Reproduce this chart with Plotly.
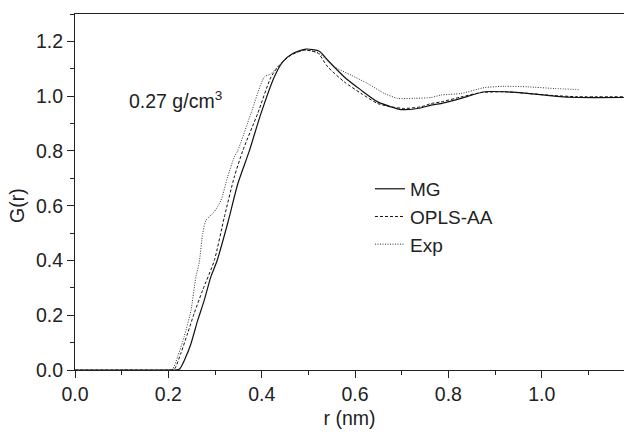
import plotly.graph_objects as go

# ---- data ----
mg_r = [0.0, 0.10, 0.20, 0.2235, 0.2378, 0.2486, 0.263, 0.277, 0.291, 0.304, 0.327, 0.349, 0.3735,
        0.3985, 0.427, 0.445, 0.4665, 0.495, 0.5235, 0.5415, 0.577, 0.613, 0.6486, 0.677, 0.6985,
        0.734, 0.763, 0.784, 0.827, 0.877, 0.92, 0.97, 1.027, 1.077, 1.176]
mg_g = [0.0, 0.0, 0.0, 0.003, 0.049, 0.097, 0.182, 0.255, 0.34, 0.397, 0.535, 0.681, 0.80,
        0.937, 1.07, 1.125, 1.156, 1.172, 1.164, 1.131, 1.07, 1.022, 0.979, 0.961, 0.951,
        0.955, 0.967, 0.973, 0.992, 1.016, 1.016, 1.01, 1.0, 0.995, 0.995]

opls_r = [0.0, 0.10, 0.20, 0.2128, 0.227, 0.2415, 0.2556, 0.2736, 0.2985, 0.32, 0.3413, 0.3593,
          0.3915, 0.42, 0.4378, 0.4628, 0.4913, 0.52, 0.5415, 0.577, 0.613, 0.6486, 0.677,
          0.7056, 0.741, 0.763, 0.784, 0.827, 0.87, 0.92, 0.97, 1.027, 1.077, 1.176]
opls_g = [0.0, 0.0, 0.0, 0.003, 0.062, 0.135, 0.208, 0.292, 0.40, 0.559, 0.705, 0.80,
          0.937, 1.07, 1.113, 1.15, 1.168, 1.158, 1.107, 1.052, 1.01, 0.973, 0.961,
          0.955, 0.961, 0.973, 0.979, 0.997, 1.013, 1.016, 1.01, 1.002, 0.998, 0.998]

exp_r = [0.10, 0.20, 0.2093, 0.22, 0.234, 0.2486, 0.259, 0.2663, 0.2736, 0.2807, 0.2985, 0.3128,
         0.327, 0.3413, 0.3485, 0.377, 0.4056, 0.42, 0.4378, 0.4557, 0.477, 0.4986, 0.5228,
         0.5556, 0.5914, 0.627, 0.6627, 0.6914, 0.727, 0.763, 0.784, 0.827, 0.877, 0.92,
         0.97, 1.027, 1.079]
exp_g = [0.0, 0.0, 0.003, 0.049, 0.122, 0.219, 0.34, 0.394, 0.499, 0.547, 0.578, 0.62,
         0.705, 0.778, 0.80, 0.937, 1.07, 1.082, 1.113, 1.143, 1.162, 1.168, 1.156,
         1.107, 1.077, 1.046, 1.01, 0.992, 0.992, 0.995, 1.004, 1.01, 1.031, 1.036,
         1.034, 1.028, 1.024]

x_ticks = [0.0, 0.2, 0.4, 0.6, 0.8, 1.0]
y_ticks = [0.0, 0.2, 0.4, 0.6, 0.8, 1.0, 1.2]

FONT = "Liberation Sans, Arial, sans-serif"
INK = "#222222"
TXT = 19.5

fig = go.Figure()
fig.add_trace(go.Scatter(x=mg_r, y=mg_g, mode="lines", name="MG",
                         line=dict(color="#111111", width=1.2, shape="spline", smoothing=0.6)))
fig.add_trace(go.Scatter(x=opls_r, y=opls_g, mode="lines", name="OPLS-AA",
                         line=dict(color="#111111", width=1.0, dash="3px,2px", shape="spline", smoothing=0.6)))
fig.add_trace(go.Scatter(x=exp_r, y=exp_g, mode="lines", name="Exp",
                         line=dict(color="#333333", width=1.0, dash="1px,1.5px", shape="spline", smoothing=0.6)))

fig.update_layout(
    width=624, height=434,
    margin=dict(l=75, r=0, t=14, b=64),
    paper_bgcolor="white", plot_bgcolor="white",
    font=dict(family=FONT, color=INK, size=TXT),
    showlegend=True,
    legend=dict(x=0.5373, y=0.562, xanchor="left", yanchor="top",
                font=dict(size=19, family=FONT, color=INK),
                bgcolor="rgba(0,0,0,0)", borderwidth=0),
    annotations=[
        dict(x=0.112, y=0.985, xref="x", yref="y", xanchor="left", yanchor="middle",
             text="0.27 g/cm<sup>3</sup>", showarrow=False,
             font=dict(size=19.5, family=FONT, color=INK)),
        dict(x=-0.1056, y=0.4607, xref="paper", yref="paper", xanchor="center", yanchor="middle",
             text="G(r)", textangle=-90, showarrow=False,
             font=dict(size=TXT, family=FONT, color=INK)),
    ],
)
fig.update_xaxes(range=[0, 1.1763], tickvals=x_ticks, ticktext=[f"{v:.1f}" for v in x_ticks],
                 ticks="outside", ticklen=7, tickwidth=1, tickcolor=INK,
                 minor=dict(dtick=0.1, tick0=0, ticks="outside", ticklen=4, tickcolor=INK),
                 showline=True, linecolor=INK, linewidth=1, mirror=True,
                 showgrid=False, zeroline=False,
                 title=dict(text="r (nm)", font=dict(size=TXT, family=FONT, color=INK), standoff=6),
                 tickfont=dict(size=TXT, family=FONT, color=INK))
fig.update_yaxes(range=[0, 1.3], tickvals=y_ticks, ticktext=[f"{v:.1f}" for v in y_ticks],
                 ticks="outside", ticklen=7, tickwidth=1, tickcolor=INK,
                 minor=dict(dtick=0.1, tick0=0, ticks="outside", ticklen=4, tickcolor=INK),
                 showline=True, linecolor=INK, linewidth=1,
                 showgrid=False, zeroline=False,
                 tickfont=dict(size=TXT, family=FONT, color=INK))

fig.write_html("out.html")
